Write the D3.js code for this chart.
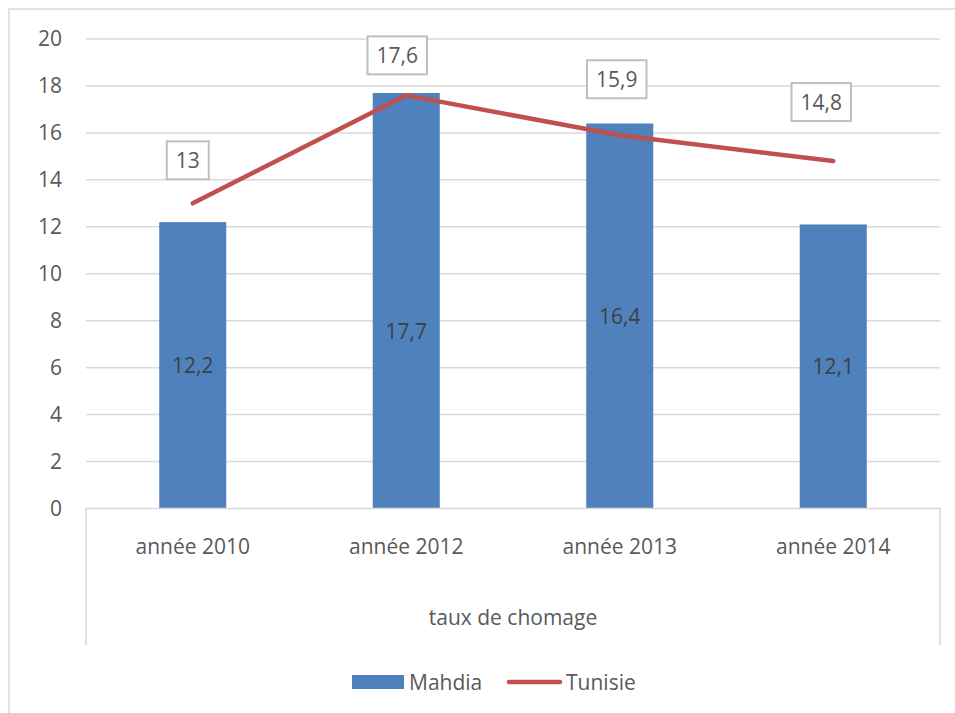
<!DOCTYPE html>
<html>
<head>
<meta charset="utf-8">
<script src="https://cdn.jsdelivr.net/npm/d3@7"></script>
<style>
  html, body { margin: 0; padding: 0; background: #fff; }
  svg { display: block; font-family: "Open Sans", sans-serif; }
</style>
</head>
<body>
<svg id="chart" width="955" height="713"></svg>
<script>
// ---- data ----
const categories = ["année 2010", "année 2012", "année 2013", "année 2014"];
const groupLabel = "taux de chomage";
const mahdia = [12.2, 17.7, 16.4, 12.1];
const tunisie = [13, 17.6, 15.9, 14.8];
const yTicks = [0, 2, 4, 6, 8, 10, 12, 14, 16, 18, 20];
const seriesNames = ["Mahdia", "Tunisie"];

// ---- layout (manual label placement, as in the original) ----
const lineLabelShift = [[-5, -43], [-9, -40], [-3, -56], [-12, -59]];
const barLabelShift = [0, 30, 0, 0];

(function () {
const svg = d3.select("#chart");
const W = 955, H = 713;
const pLeft = 86, pRight = 940, pTop = 39, pBottom = 508.5;
const textColor = "#595959", gridColor = "#D9D9D9";
const blue = "#4F81BD", red = "#C0504D";
const fs = 21;

// outer border (top and left visible)
svg.append("path").attr("d", `M9,${H} L9,9 L${W},9`).attr("fill", "none")
  .attr("stroke", gridColor).attr("stroke-width", 1.5);

const x = d3.scaleBand().domain(categories).range([pLeft, pRight]).paddingInner(0).paddingOuter(0);
const y = d3.scaleLinear().domain([0, 20]).range([pBottom, pTop]);

// gridlines
svg.append("g").selectAll("line").data(yTicks.filter(d => d > 0)).join("line")
  .attr("x1", pLeft).attr("x2", pRight)
  .attr("y1", d => y(d)).attr("y2", d => y(d))
  .attr("stroke", gridColor).attr("stroke-width", 1.5);

// y axis labels
const yAxis = d3.axisLeft(y).tickValues(yTicks).tickSize(0).tickPadding(24).tickFormat(d3.format("d"));
const yg = svg.append("g").attr("transform", `translate(${pLeft},0)`).call(yAxis);
yg.select(".domain").remove();
yg.selectAll("text").attr("fill", textColor).style("font-size", fs + "px")
  .style("font-family", "'Open Sans', sans-serif");

// bars
const bw = x.bandwidth() * 0.314;
svg.append("g").selectAll("rect").data(mahdia).join("rect")
  .attr("x", (d, i) => x(categories[i]) + x.bandwidth() / 2 - bw / 2)
  .attr("y", d => y(d))
  .attr("width", bw)
  .attr("height", d => y(0) - y(d))
  .attr("fill", blue);

// x axis line & multi-level frame
svg.append("path")
  .attr("d", `M${pLeft},645 L${pLeft},${pBottom} L${pRight},${pBottom} L${pRight},645`)
  .attr("fill", "none").attr("stroke", gridColor).attr("stroke-width", 1.5);

// category labels
const xAxis = d3.axisBottom(x).tickSize(0).tickPadding(31);
const xg = svg.append("g").attr("transform", `translate(0,${pBottom})`).call(xAxis);
xg.select(".domain").remove();
xg.selectAll("text").attr("fill", textColor).style("font-size", fs + "px")
  .style("font-family", "'Open Sans', sans-serif");

svg.append("text").attr("x", (pLeft + pRight) / 2).attr("y", 617)
  .attr("text-anchor", "middle").attr("dominant-baseline", "central")
  .attr("fill", textColor).style("font-size", fs + "px").text(groupLabel);

// bar value labels
svg.append("g").selectAll("text").data(mahdia).join("text")
  .attr("x", (d, i) => x(categories[i]) + x.bandwidth() / 2)
  .attr("y", (d, i) => (y(d) + y(0)) / 2 + barLabelShift[i])
  .attr("text-anchor", "middle").attr("dominant-baseline", "central")
  .attr("fill", "#404040").style("font-size", fs + "px")
  .text(d => String(d).replace(".", ","));

// line
const line = d3.line()
  .x((d, i) => x(categories[i]) + x.bandwidth() / 2)
  .y(d => y(d));
svg.append("path").datum(tunisie).attr("d", line)
  .attr("fill", "none").attr("stroke", red).attr("stroke-width", 4.5)
  .attr("stroke-linecap", "round").attr("stroke-linejoin", "round");

// line labels in boxes
const lg = svg.append("g");
tunisie.forEach((d, i) => {
  const cx = x(categories[i]) + x.bandwidth() / 2 + lineLabelShift[i][0];
  const cy = y(d) + lineLabelShift[i][1];
  const txt = String(d).replace(".", ",");
  const t = lg.append("text").attr("x", cx).attr("y", cy)
    .attr("text-anchor", "middle").attr("dominant-baseline", "central")
    .attr("fill", textColor).style("font-size", fs + "px").text(txt);
  const bb = t.node().getBBox();
  const bwid = bb.width + 18, bh = 38;
  lg.insert("rect", "text").attr("x", cx - bwid / 2).attr("y", cy - bh / 2)
    .attr("width", bwid).attr("height", bh)
    .attr("fill", "#fff").attr("stroke", "#BFBFBF").attr("stroke-width", 2);
});

// legend
const leg = svg.append("g");
leg.append("rect").attr("x", 352).attr("y", 675).attr("width", 52).attr("height", 14).attr("fill", blue);
leg.append("text").attr("x", 409).attr("y", 682).attr("dominant-baseline", "central")
  .attr("fill", textColor).style("font-size", fs + "px").text(seriesNames[0]);
leg.append("line").attr("x1", 509).attr("x2", 560).attr("y1", 682).attr("y2", 682)
  .attr("stroke", red).attr("stroke-width", 4.5).attr("stroke-linecap", "round");
leg.append("text").attr("x", 566).attr("y", 682).attr("dominant-baseline", "central")
  .attr("fill", textColor).style("font-size", fs + "px").text(seriesNames[1]);
})();
</script>
</body>
</html>
